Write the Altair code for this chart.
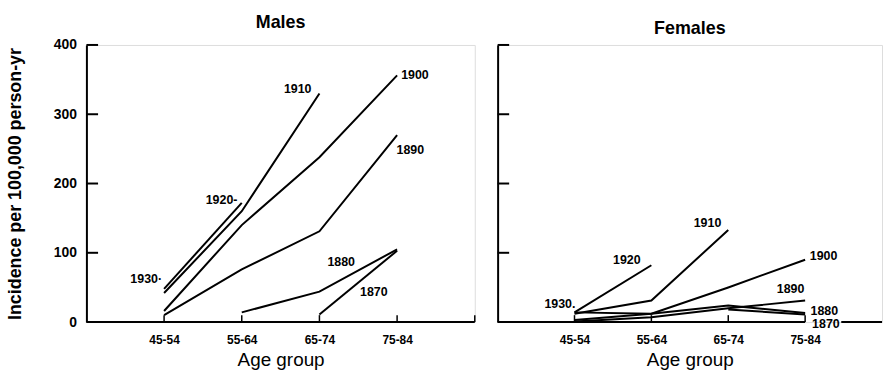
import json
import altair as alt
import pandas as pd

# ---------------- data ----------------
age_groups = ["45-54", "55-64", "65-74", "75-84"]
cohorts = ["1870", "1880", "1890", "1900", "1910", "1920"]

# Males: incidence per 100,000 person-yr by age group (None = not observed)
male_1870 = [None, None, 11, 103]
male_1880 = [None, 14, 44, 105]
male_1890 = [10, 76, 131, 270]
male_1900 = [16, 140, 238, 356]
male_1910 = [42, 160, 330, None]
male_1920 = [48, 172, None, None]

# Females
female_1870 = [None, None, 18, 11]
female_1880 = [14, 12, 24, 13]
female_1890 = [1, 7, 20, 31]
female_1900 = [3, 12, 50, 90]
female_1910 = [12, 31, 133, None]
female_1920 = [14, 82, None, None]

# cohort labels (annotation text)
male_label_text = ["1910", "1900", "1890", "1920-", "1930·", "1880", "1870"]
male_label_x = [2.72, 4.23, 4.17, 1.74, 0.77, 3.28, 3.70]
male_label_y = [337, 356, 248, 176, 62, 87, 43]

female_label_text = ["1910", "1920", "1900", "1890", "1930.", "1880", "1870"]
female_label_x = [2.73, 1.68, 4.24, 3.81, 0.81, 4.25, 4.27]
female_label_y = [143, 89, 96, 47, 26, 16, -3]

y_ticks = [100, 200, 300, 400]
y_labels = [0, 100, 200, 300, 400]

FONT = "Liberation Sans"


def long_df(series):
    rows = []
    for coh, vals in zip(cohorts, series):
        for i, v in enumerate(vals):
            if v is not None:
                rows.append({"cohort": coh, "pos": i + 1, "value": v})
    return pd.DataFrame(rows)


male_df = long_df([male_1870, male_1880, male_1890, male_1900, male_1910, male_1920])
female_df = long_df([female_1870, female_1880, female_1890, female_1900, female_1910, female_1920])

label_expr = json.dumps(age_groups) + "[datum.value - 1]"


def panel(df, lab_text, lab_x, lab_y, title, width, show_y, x_tick_pos, axis_segments):
    xscale = alt.Scale(domain=[0, 5], nice=False, zero=False)
    yscale = alt.Scale(domain=[0, 400], nice=False)
    x_axis = alt.Axis(
        values=[1, 2, 3, 4], labelExpr=label_expr, ticks=False, tickSize=0,
        domain=False, grid=False, title="Age group",
        labelFont=FONT, labelFontSize=12, labelFontWeight="bold", labelColor="black",
        labelPadding=13, titleFont=FONT, titleFontSize=19, titleFontWeight="normal",
        titleColor="black", titlePadding=5,
    )
    if show_y:
        y_axis = alt.Axis(
            values=y_labels, ticks=False, tickSize=0, grid=False,
            domainColor="black", domainWidth=2,
            labelFont=FONT, labelFontSize=14, labelFontWeight="bold", labelColor="black",
            labelPadding=10, title="Incidence per 100,000 person-yr",
            titleFont=FONT, titleFontSize=18, titleFontWeight="bold", titleColor="black",
            titlePadding=29,
        )
    else:
        y_axis = alt.Axis(
            values=y_labels, labels=False, ticks=False, tickSize=0, grid=False,
            domainColor="black", domainWidth=2, title=None,
        )

    lines = alt.Chart(df).mark_line(color="black", strokeWidth=2).encode(
        x=alt.X("pos:Q", scale=xscale, axis=x_axis),
        y=alt.Y("value:Q", scale=yscale, axis=y_axis),
        detail="cohort:N",
        order="pos:Q",
    )

    lab_df = pd.DataFrame({"text": lab_text, "x": lab_x, "y": lab_y})
    labels = alt.Chart(lab_df).mark_text(
        font=FONT, fontSize=12.5, fontWeight="bold", color="black"
    ).encode(x=alt.X("x:Q", scale=xscale), y=alt.Y("y:Q", scale=yscale), text="text:N")

    yt_df = pd.DataFrame({"v": y_ticks, "x0": [0] * len(y_ticks), "x1": [0.15] * len(y_ticks)})
    yticks = alt.Chart(yt_df).mark_rule(color="black", strokeWidth=2).encode(
        x=alt.X("x0:Q", scale=xscale), x2="x1:Q", y=alt.Y("v:Q", scale=yscale)
    )

    xt_df = pd.DataFrame({"p": x_tick_pos, "y0": [0] * len(x_tick_pos), "y1": [10] * len(x_tick_pos)})
    xticks = alt.Chart(xt_df).mark_rule(color="black", strokeWidth=1.5).encode(
        x=alt.X("p:Q", scale=xscale), y=alt.Y("y0:Q", scale=yscale), y2="y1:Q"
    )

    seg_df = pd.DataFrame({"a": [s[0] for s in axis_segments], "b": [s[1] for s in axis_segments],
                           "z": [0] * len(axis_segments)})
    xaxis_line = alt.Chart(seg_df).mark_rule(color="black", strokeWidth=2).encode(
        x=alt.X("a:Q", scale=xscale), x2="b:Q", y=alt.Y("z:Q", scale=yscale)
    )

    return alt.layer(lines, xaxis_line, xticks, yticks, labels).properties(
        width=width, height=279,
        title=alt.TitleParams(title, font=FONT, fontSize=18, fontWeight="bold",
                              color="black", offset=6),
    )


males = panel(male_df, male_label_text, male_label_x, male_label_y, "Males", 391, True,
              [1, 2, 3, 4, 5], [(0, 5)])
females = panel(female_df, female_label_text, female_label_x, female_label_y, "Females", 387,
                False, [1, 2, 3, 4], [(0, 4.0), (4.47, 5)])

chart = alt.hconcat(males, females, spacing=19).properties(
    padding={"left": 6, "top": 12, "right": 0, "bottom": 0}
).configure_view(stroke=None).configure(background="white")

chart.save("out.html", embed_options={"renderer": "svg", "actions": False})
